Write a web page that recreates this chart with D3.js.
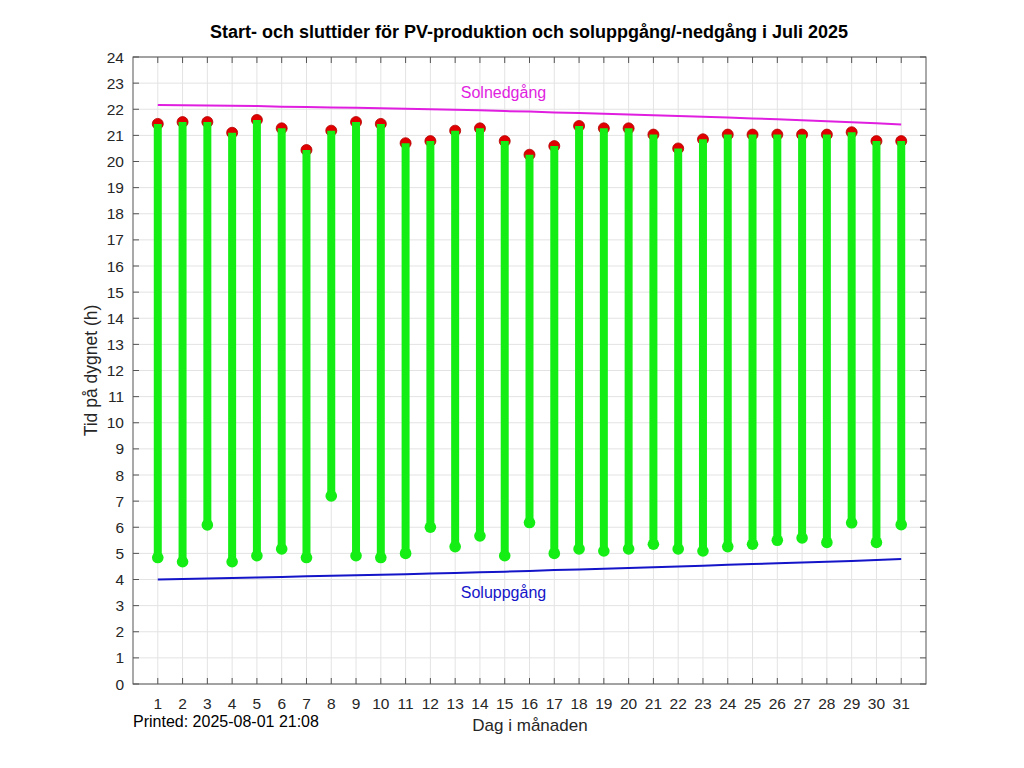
<!DOCTYPE html>
<html>
<head>
<meta charset="utf-8">
<script src="https://cdn.jsdelivr.net/npm/d3@7"></script>
<style>
  body { margin: 0; background: #fff; }
  text { font-family: "Liberation Sans", Arial, sans-serif; }
</style>
</head>
<body>
<svg id="chart" width="1024" height="768"></svg>
<script>
// day of month
const days = d3.range(1, 32)

// PV production start / end (hours)
const pvStart = [4.84, 4.68, 6.09, 4.68, 4.91, 5.17, 4.84, 7.20, 4.91, 4.84,
  5.00, 6.00, 5.26, 5.67, 4.91, 6.18, 5.00, 5.17, 5.09, 5.17,
  5.35, 5.17, 5.09, 5.26, 5.35, 5.50, 5.59, 5.42, 6.17, 5.42, 6.10]
const pvEnd = [21.44, 21.51, 21.51, 21.10, 21.59, 21.27, 20.44, 21.18, 21.51, 21.44,
  20.70, 20.78, 21.18, 21.27, 20.78, 20.26, 20.59, 21.36, 21.27, 21.27,
  21.03, 20.50, 20.85, 21.03, 21.03, 21.03, 21.03, 21.03, 21.12, 20.78, 20.78]

// sunrise / sunset (hours)
const sunrise = [4.00, 4.02, 4.04, 4.06, 4.08, 4.10, 4.12, 4.14, 4.16, 4.18,
  4.20, 4.23, 4.25, 4.28, 4.30, 4.33, 4.36, 4.38, 4.41, 4.44,
  4.47, 4.50, 4.53, 4.56, 4.59, 4.62, 4.65, 4.68, 4.71, 4.75, 4.78]
const sunset = [22.16, 22.15, 22.14, 22.13, 22.12, 22.10, 22.09, 22.07, 22.06, 22.04,
  22.02, 22.00, 21.98, 21.96, 21.93, 21.91, 21.88, 21.86, 21.83, 21.80,
  21.77, 21.74, 21.71, 21.68, 21.65, 21.62, 21.58, 21.54, 21.50, 21.46, 21.42]

const yTicks = d3.range(0, 25)

const margin = {top: 57, right: 98, bottom: 84, left: 133}
const width = 1024 - margin.left - margin.right,
  height = 768 - margin.top - margin.bottom

const svg = d3.select('#chart')
const g = svg.append('g')
  .attr('transform', `translate(${margin.left},${margin.top})`)

const x = d3.scaleLinear().domain([0, 32]).range([0, width])
const y = d3.scaleLinear().domain([0, 24]).range([height, 0])

// grid
g.append('g').selectAll('line').data(days).join('line')
  .attr('x1', d => x(d)).attr('x2', d => x(d))
  .attr('y1', 0).attr('y2', height)
  .attr('stroke', '#e3e3e3').attr('stroke-width', 1)
g.append('g').selectAll('line').data(yTicks).join('line')
  .attr('x1', 0).attr('x2', width)
  .attr('y1', d => y(d)).attr('y2', d => y(d))
  .attr('stroke', '#e3e3e3').attr('stroke-width', 1)

// sunrise / sunset curves
const line = d3.line().x((d, i) => x(days[i])).y(d => y(d))
g.append('path').datum(sunset).attr('d', line)
  .attr('fill', 'none').attr('stroke', '#e01ee0').attr('stroke-width', 2)
g.append('path').datum(sunrise).attr('d', line)
  .attr('fill', 'none').attr('stroke', '#1414c8').attr('stroke-width', 2)

// PV bars
const bars = g.append('g')
bars.selectAll('circle.end').data(days).join('circle')
  .attr('class', 'end')
  .attr('cx', d => x(d)).attr('cy', (d, i) => y(pvEnd[i]))
  .attr('r', 5.5).attr('fill', '#e00000').attr('stroke', '#b40000').attr('stroke-width', 0.8)
bars.selectAll('line').data(days).join('line')
  .attr('x1', d => x(d)).attr('x2', d => x(d))
  .attr('y1', (d, i) => y(pvStart[i])).attr('y2', (d, i) => y(pvEnd[i]))
  .attr('stroke', '#14ee14').attr('stroke-width', 8)
bars.selectAll('circle.start').data(days).join('circle')
  .attr('class', 'start')
  .attr('cx', d => x(d)).attr('cy', (d, i) => y(pvStart[i]))
  .attr('r', 5.8).attr('fill', '#14ee14')

// axes box
g.append('rect').attr('width', width).attr('height', height)
  .attr('fill', 'none').attr('stroke', '#555').attr('stroke-width', 1)

const tickLen = 6
const tickG = g.append('g').attr('stroke', '#555').attr('stroke-width', 1)
tickG.selectAll('line.xb').data(days).join('line').attr('class', 'xb')
  .attr('x1', d => x(d)).attr('x2', d => x(d)).attr('y1', height).attr('y2', height - tickLen)
tickG.selectAll('line.xt').data(days).join('line').attr('class', 'xt')
  .attr('x1', d => x(d)).attr('x2', d => x(d)).attr('y1', 0).attr('y2', tickLen)
tickG.selectAll('line.yl').data(yTicks).join('line').attr('class', 'yl')
  .attr('x1', 0).attr('x2', tickLen).attr('y1', d => y(d)).attr('y2', d => y(d))
tickG.selectAll('line.yr').data(yTicks).join('line').attr('class', 'yr')
  .attr('x1', width).attr('x2', width - tickLen).attr('y1', d => y(d)).attr('y2', d => y(d))

// tick labels
g.append('g').selectAll('text').data(days).join('text')
  .attr('x', d => x(d)).attr('y', height + 25)
  .attr('text-anchor', 'middle').attr('font-size', 15.5).attr('fill', '#262626')
  .text(d => d)
g.append('g').selectAll('text').data(yTicks).join('text')
  .attr('x', -9).attr('y', d => y(d)).attr('dy', '0.36em')
  .attr('text-anchor', 'end').attr('font-size', 15.5).attr('fill', '#262626')
  .text(d => d)

// curve labels
g.append('text').attr('x', x(14.95)).attr('y', y(22.17) - 7)
  .attr('text-anchor', 'middle').attr('font-size', 16).attr('fill', '#e01ee0')
  .text('Solnedgång')
g.append('text').attr('x', x(14.95)).attr('y', y(4.0) + 18)
  .attr('text-anchor', 'middle').attr('font-size', 16).attr('fill', '#1414c8')
  .text('Soluppgång')

// title and axis labels
svg.append('text').attr('x', 529).attr('y', 38)
  .attr('text-anchor', 'middle').attr('font-size', 18).attr('font-weight', 'bold')
  .attr('fill', '#000')
  .text('Start- och sluttider för PV-produktion och soluppgång/-nedgång i Juli 2025')
svg.append('text').attr('x', 530).attr('y', 731)
  .attr('text-anchor', 'middle').attr('font-size', 17).attr('fill', '#262626')
  .text('Dag i månaden')
svg.append('text')
  .attr('transform', `translate(97,${margin.top + height / 2}) rotate(-90)`)
  .attr('text-anchor', 'middle').attr('font-size', 17.5).attr('fill', '#262626')
  .text('Tid på dygnet (h)')
svg.append('text').attr('x', 133).attr('y', 727)
  .attr('font-size', 16).attr('fill', '#000')
  .text('Printed: 2025-08-01 21:08')
</script>
</body>
</html>
